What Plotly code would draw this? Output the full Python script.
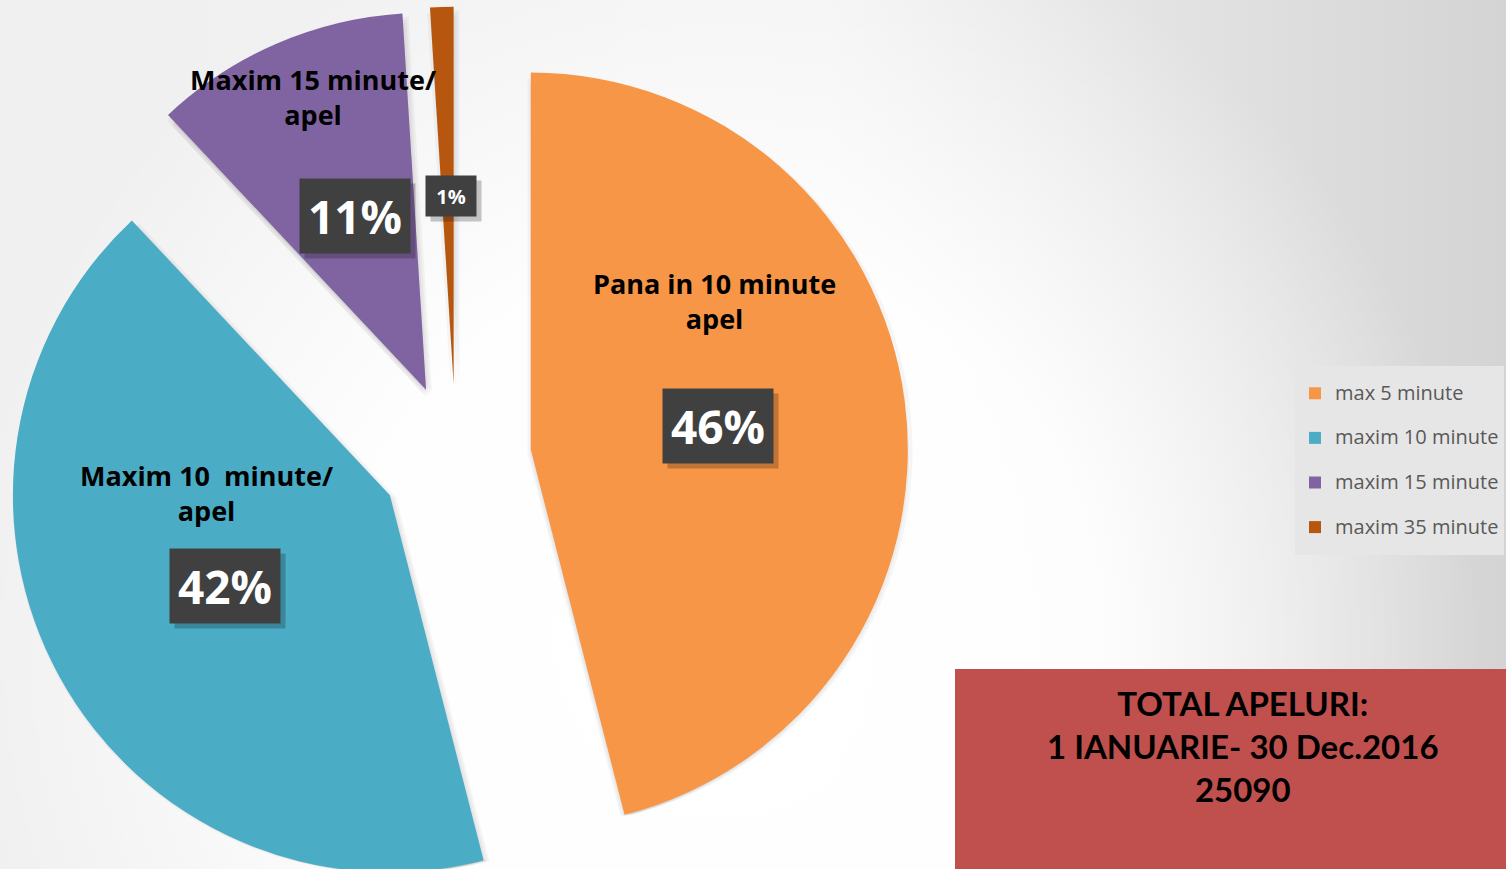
import base64
import plotly.graph_objects as go

# ---------------- data ----------------
legend_labels = ["max 5 minute", "maxim 10 minute", "maxim 15 minute", "maxim 35 minute"]
slice_titles = ["Pana in 10 minute<br>apel", "Maxim 10&nbsp; minute/<br>apel",
                "Maxim 15 minute/<br>apel", ""]
percent_values = [46, 42, 11, 1]
slice_colors = ["#f79646", "#4bacc6", "#8064a2", "#b7560e"]
total_text = ["TOTAL APELURI:", "1 IANUARIE- 30 Dec.2016", "25090"]

W, H = 1506, 912


def px(x):
    return x / W


def py(y):
    return 1 - y / H


# background gradient as an SVG image
svg = f"""<svg xmlns='http://www.w3.org/2000/svg' width='{W}' height='{H}' viewBox='0 0 {W} {H}' preserveAspectRatio='none'>
<defs>
<linearGradient id='lg' x1='0' y1='0' x2='{W}' y2='0' gradientUnits='userSpaceOnUse'>
<stop offset='0' stop-color='#f0f0f0'/>
<stop offset='0.55' stop-color='#f2f2f2'/>
<stop offset='1' stop-color='#d4d4d4'/>
</linearGradient>
<radialGradient id='rg' cx='720' cy='640' r='760' gradientUnits='userSpaceOnUse'>
<stop offset='0' stop-color='#ffffff' stop-opacity='1'/>
<stop offset='0.5' stop-color='#ffffff' stop-opacity='0.92'/>
<stop offset='1' stop-color='#ffffff' stop-opacity='0'/>
</radialGradient>
</defs>
<rect x='0' y='0' width='{W}' height='{H}' fill='url(#lg)'/>
<rect x='0' y='0' width='{W}' height='{H}' fill='url(#rg)'/>
</svg>"""
bg_src = "data:image/svg+xml;base64," + base64.b64encode(svg.encode()).decode()

# pie geometry: radius 377 px, pull 0.2, centre (456, 459)
R, PULL, CX, CY = 377, 0.2, 456, 459


def pie_domain(r, cx, cy):
    side = 2 * r * (1 + PULL)
    return dict(x=[max(0.0, px(cx - side / 2)), min(1.0, px(cx + side / 2))],
                y=[max(0.0, py(cy + side / 2)), min(1.0, py(cy - side / 2))])


fig = go.Figure()

# soft drop shadow: the same slices drawn a few pixels offset in translucent grey
for dx, dy in [(0, 4), (4, 6), (-3, 6), (2, 9), (6, 3), (0, 12)]:
    fig.add_trace(go.Pie(
        labels=legend_labels,
        values=percent_values,
        sort=False,
        direction="clockwise",
        rotation=0,
        pull=[PULL] * len(percent_values),
        marker=dict(colors=["rgba(0,0,0,0.035)"] * len(percent_values), line=dict(width=0)),
        textinfo="none",
        hoverinfo="skip",
        domain=pie_domain(R, CX + dx, CY + dy),
        showlegend=False,
    ))

fig.add_trace(go.Pie(
    labels=[f"<span style='font-size:20px;baseline-shift:6px'>{l}</span>" for l in legend_labels],
    values=percent_values,
    sort=False,
    direction="clockwise",
    rotation=0,
    pull=[PULL] * len(percent_values),
    marker=dict(colors=slice_colors, line=dict(width=0)),
    textinfo="none",
    hoverinfo="percent",
    domain=pie_domain(R, CX, CY),
    showlegend=True,
))

annotations = []
shapes = []

# slice titles
title_pos = [(714, 301), (207, 493), (313, 97)]
for t, (x, y) in zip(slice_titles, title_pos):
    annotations.append(dict(x=px(x), y=py(y), xref="paper", yref="paper", text=f"<b>{t}</b>",
                            showarrow=False, font=dict(family="Open Sans", size=27, color="#000000"),
                            xanchor="center", yanchor="middle"))

# percentage boxes
box_pos = [(718, 426, 110, 74, 46), (225, 586, 110, 74, 46), (355, 216, 110, 74, 46), (451, 196, 50, 40, 20)]
for v, (x, y, bw, bh, fs) in zip(percent_values, box_pos):
    annotations.append(dict(x=px(x + 5), y=py(y + 5), xref="paper", yref="paper", text=" ",
                            showarrow=False, width=bw, height=bh, bgcolor="rgba(0,0,0,0.22)",
                            borderpad=0, xanchor="center", yanchor="middle"))
    annotations.append(dict(x=px(x), y=py(y), xref="paper", yref="paper", text=f"<b>{v}%</b>",
                            showarrow=False, width=bw, height=bh, bgcolor="#404040",
                            borderpad=0, xanchor="center", yanchor="middle",
                            font=dict(family="Open Sans", size=fs, color="#ffffff")))

# total box
shapes.append(dict(type="rect", xref="paper", yref="paper", x0=px(955), x1=1, y0=0, y1=py(669),
                   fillcolor="#c0504d", line=dict(width=0), layer="above"))
annotations.append(dict(x=px(1243), y=py(746), xref="paper", yref="paper",
                        text="<b>" + "<br>".join(total_text) + "</b>", showarrow=False,
                        font=dict(family="Lato", size=33, color="#000000"),
                        xanchor="center", yanchor="middle"))

fig.update_layout(
    width=W, height=H,
    margin=dict(l=0, r=0, t=0, b=0),
    paper_bgcolor="#f0f0f0",
    plot_bgcolor="rgba(0,0,0,0)",
    images=[dict(source=bg_src, xref="paper", yref="paper", x=0, y=1, sizex=1, sizey=1,
                 sizing="stretch", layer="below", xanchor="left", yanchor="top")],
    legend=dict(x=px(1295), y=py(366), xanchor="left", yanchor="top",
                bgcolor="#e6e6e6", borderwidth=0,
                font=dict(family="Open Sans", size=32, color="#595959"),
                itemclick=False, itemdoubleclick=False),
    annotations=annotations,
    shapes=shapes,
    showlegend=True,
)

fig.write_html("out.html", config={"displayModeBar": False},
               post_script="document.body.style.margin='0px';document.body.style.overflow='hidden';")
